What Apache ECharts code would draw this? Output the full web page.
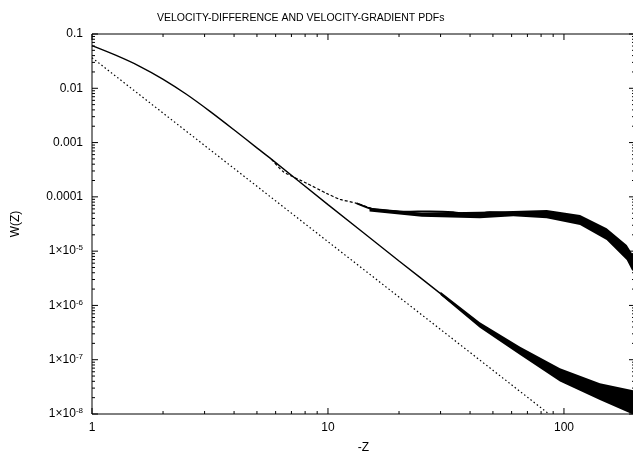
<!DOCTYPE html>
<html><head><meta charset="utf-8">
<script src="https://cdn.jsdelivr.net/npm/echarts@6/dist/echarts.min.js"></script>
<style>html,body{margin:0;padding:0;background:#fff}#c{width:633px;height:454px}</style>
</head><body><div id="c"></div>
<script>
// ---- text ----
const titleText = 'VELOCITY-DIFFERENCE AND VELOCITY-GRADIENT PDFs';
const xName = '-Z';
const yName = 'W(Z)';
// ---- axis ticks / labels ----
const xMajor = [1, 10, 100];
const xMinor = [2,3,4,5,6,7,8,9,20,30,40,50,60,70,80,90,200];
const yMajor = [1e-8,1e-7,1e-6,1e-5,1e-4,1e-3,1e-2,1e-1];
const yLabels = ['1×10{s|-8}','1×10{s|-7}','1×10{s|-6}','1×10{s|-5}','0.0001','0.001','0.01','0.1'];
const yMinorMant = [2,3,4,5,6,7,8,9];
// ---- velocity-difference PDF (solid) ----
const solidX = [1, 1.259, 1.585, 1.995, 2.512, 3.162, 3.981, 5.012, 5.77, 10, 20, 29.9, 44, 53.6, 65.2, 79.1, 96.2, 117, 142, 173, 194, 200];
const solidY = [0.061, 0.0407, 0.0257, 0.01479, 0.00776, 0.00376, 0.00174, 7.9e-4, 4.9e-4, 7.2e-5, 6.6e-6, 1.67e-6, 4.37e-7, 2.65e-7, 1.51e-7, 8.6e-8, 5.6e-8, 3.68e-8, 2.77e-8, 2.08e-8, 1.69e-8, 1.62e-8];
// ---- velocity-gradient PDF (dashed, plateau) ----
const dashX = [5.77, 6.47, 8.13, 9.86, 11.25, 13.24, 15.56];
const dashY = [4.9e-4, 2.91e-4, 1.78e-4, 1.16e-4, 9.0e-5, 7.6e-5, 5.9e-5];
const plateauX = [13.24, 15.56, 21.5, 27.0, 34.0, 41.3, 48.5, 61, 84.5, 102.6, 117, 133, 151.7, 167, 184.5, 194, 200];
const plateauY = [7.6e-5, 5.9e-5, 5.3e-5, 5.4e-5, 5.2e-5, 4.6e-5, 5.2e-5, 5.0e-5, 5.0e-5, 4.3e-5, 3.75e-5, 2.82e-5, 2.13e-5, 1.49e-5, 9.1e-6, 6.4e-6, 5.6e-6];
// ---- noise envelopes ----
const upBandX  = [15, 25, 44, 61, 84.5, 117, 151.7, 184.5, 194, 200];
const upBandLo = [5.4e-5, 4.3e-5, 4.03e-5, 4.37e-5, 4.03e-5, 3.03e-5, 1.61e-5, 6.9e-6, 4.5e-6, 4.0e-6];
const upBandHi = [6.3e-5, 5.1e-5, 5.33e-5, 5.5e-5, 5.73e-5, 4.63e-5, 2.64e-5, 1.30e-5, 9.1e-6, 8.5e-6];
const loBandX  = [30, 44, 65.2, 96.2, 142, 194, 200];
const loBandLo = [1.55e-6, 3.86e-7, 1.22e-7, 3.95e-8, 1.82e-8, 1.0e-8, 1.0e-8];
const loBandHi = [1.78e-6, 4.9e-7, 1.74e-7, 6.95e-8, 3.68e-8, 2.77e-8, 2.7e-8];
// ---- reference power law (dotted) ----
const dotX = [1, 86.4];
const dotY = [0.0366, 1e-8];

const zip = (a, b) => a.map((v, i) => [v, b[i]]);
const FONT = 'Liberation Sans, Arial, sans-serif';
const bands = [[upBandX, upBandLo, upBandHi], [loBandX, loBandLo, loBandHi]];

// tick items: [x, y, kind] kind: 0 x-major,1 x-minor,2 y-major,3 y-minor
const tickData = [];
xMajor.forEach(v => tickData.push([v, 1e-8, 0]));
xMinor.forEach(v => tickData.push([v, 1e-8, 1]));
yMajor.forEach(v => tickData.push([1, v, 2]));
yMajor.slice(0, -1).forEach(d => yMinorMant.forEach(m => tickData.push([1, d * m, 3])));

const chart = echarts.init(document.getElementById('c'), null, { renderer: 'canvas' });
const GRID = { left: 92, top: 34, width: 543, height: 380 };
chart.setOption({
  animation: false,
  backgroundColor: '#fff',
  title: { text: titleText, left: 152, top: 8,
    textStyle: { fontSize: 10.5, fontWeight: 'normal', color: '#000', fontFamily: FONT } },
  grid: Object.assign({ show: true, borderColor: '#000', borderWidth: 1, backgroundColor: 'transparent',
    containLabel: false, outerBoundsMode: 'none' }, GRID),
  xAxis: {
    type: 'log', logBase: 10, min: 1, max: 200,
    name: xName, nameLocation: 'middle', nameGap: 28,
    nameTextStyle: { fontSize: 12, color: '#000', fontFamily: FONT },
    axisLine: { show: false }, axisTick: { show: false }, splitLine: { show: false },
    axisLabel: { fontSize: 12, color: '#000', fontFamily: FONT, margin: 8,
      formatter: v => xMajor.some(m => Math.abs(m - v) / m < 1e-6) ? String(Math.round(v)) : '' }
  },
  yAxis: {
    type: 'log', logBase: 10, min: 1e-8, max: 0.1,
    name: yName, nameLocation: 'middle', nameGap: 70, nameRotate: 90,
    nameTextStyle: { fontSize: 12, color: '#000', fontFamily: FONT },
    axisLine: { show: false }, axisTick: { show: false }, splitLine: { show: false },
    axisLabel: { fontSize: 12, color: '#000', fontFamily: FONT, margin: 9,
      formatter: v => {
        const i = yMajor.findIndex(m => Math.abs(Math.log10(m) - Math.log10(v)) < 1e-6);
        return i >= 0 ? yLabels[i] : '';
      },
      rich: { s: { fontSize: 8, color: '#000', fontFamily: FONT, verticalAlign: 'top', padding: [0, 0, 6, 0] } }
    }
  },
  series: [
    { type: 'custom', data: [0, 1], silent: true, z: 3, clip: true,
      renderItem: (params, api) => {
        const [xs, lo, hi] = bands[params.dataIndex];
        const pts = xs.map((x, i) => api.coord([x, hi[i]]))
          .concat(xs.map((x, i) => api.coord([x, lo[i]])).reverse());
        return { type: 'polygon', shape: { points: pts }, style: { fill: '#000' } };
      } },
    { type: 'line', data: zip(solidX, solidY), symbol: 'none', smooth: 0.3, clip: true,
      lineStyle: { color: '#000', width: 1.4 }, z: 4 },
    { type: 'line', data: zip(dashX, dashY), symbol: 'none', smooth: 0.2, clip: true,
      lineStyle: { color: '#000', width: 1.2, type: [3, 2] }, z: 4 },
    { type: 'line', data: zip(plateauX, plateauY), symbol: 'none', smooth: 0.2, clip: true,
      lineStyle: { color: '#000', width: 2 }, z: 4 },
    { type: 'line', data: zip(dotX, dotY), symbol: 'none', clip: true,
      lineStyle: { color: '#000', width: 1.2, type: [1.5, 2.5] }, z: 4 },
    { type: 'custom', data: tickData, silent: true, z: 5, clip: false,
      renderItem: (params, api) => {
        const kind = api.value(2);
        const len = (kind === 0 || kind === 2) ? 6 : 3;
        const st = { stroke: '#000', lineWidth: 1 };
        if (kind < 2) {
          const b = api.coord([api.value(0), 1e-8]);
          const t = api.coord([api.value(0), 0.1]);
          return { type: 'group', children: [
            { type: 'line', shape: { x1: b[0], y1: b[1], x2: b[0], y2: b[1] - len }, style: st },
            { type: 'line', shape: { x1: t[0], y1: t[1], x2: t[0], y2: t[1] + len }, style: st }
          ]};
        } else {
          const l = api.coord([1, api.value(1)]);
          const r = api.coord([200, api.value(1)]);
          return { type: 'group', children: [
            { type: 'line', shape: { x1: l[0], y1: l[1], x2: l[0] + len, y2: l[1] }, style: st },
            { type: 'line', shape: { x1: r[0], y1: r[1], x2: r[0] - len, y2: r[1] }, style: st }
          ]};
        }
      } }
  ]
});
</script></body></html>
